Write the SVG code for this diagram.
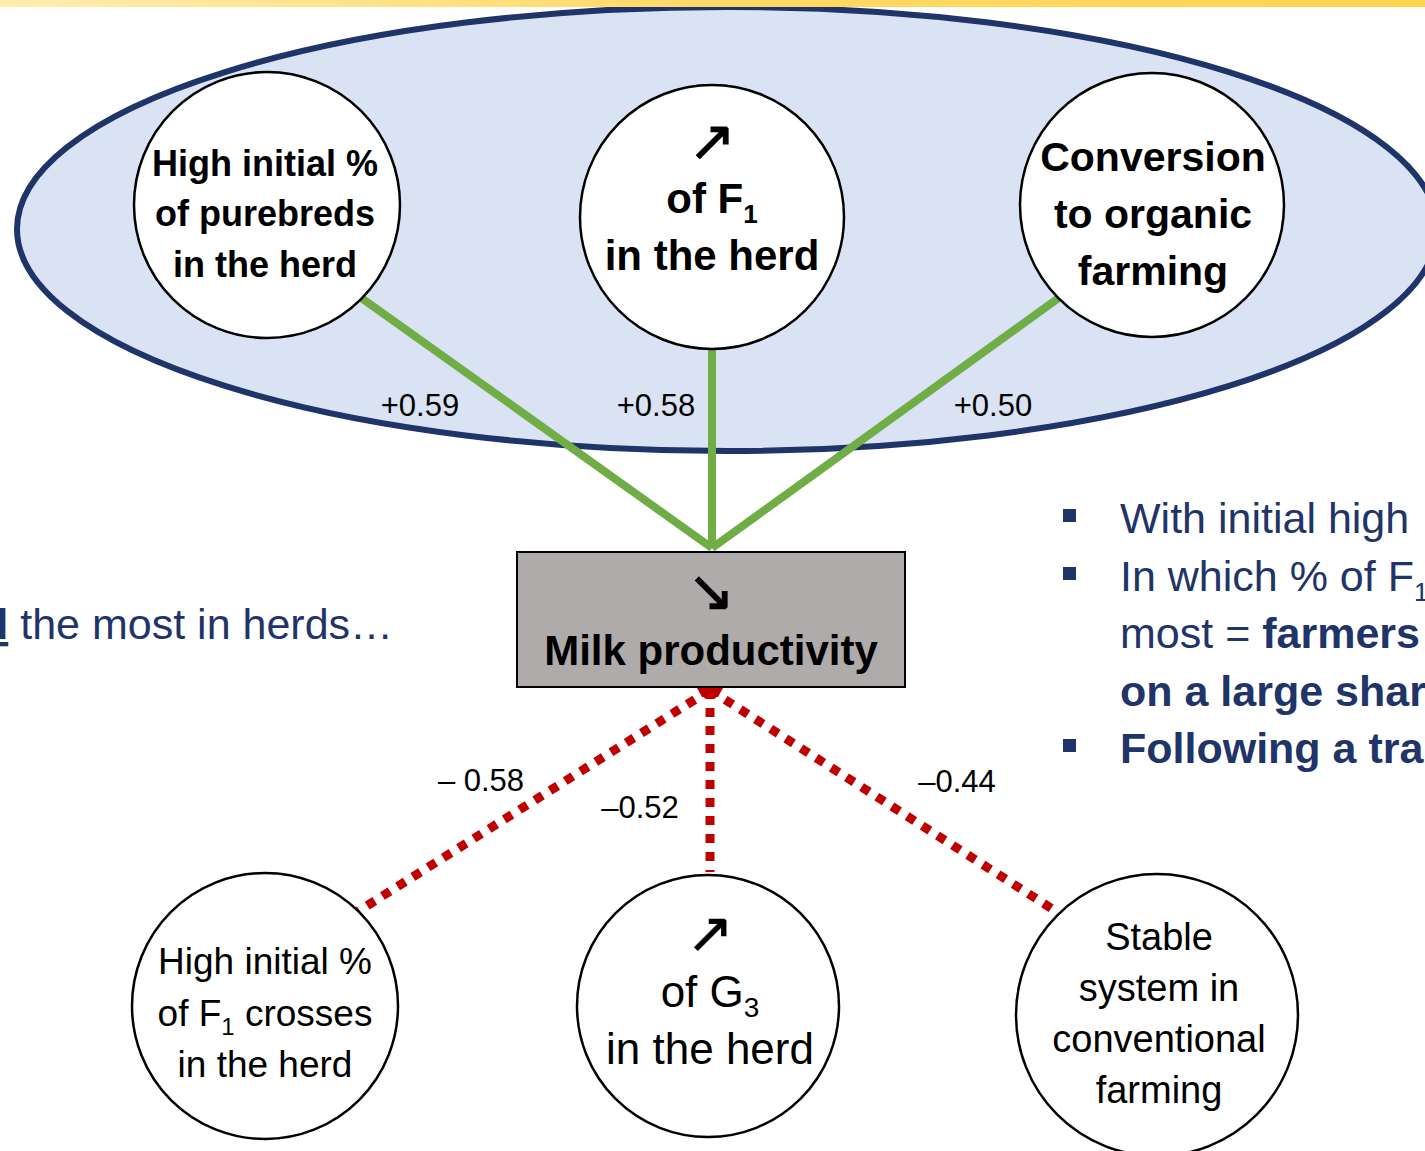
<svg xmlns="http://www.w3.org/2000/svg" width="1425" height="1151" viewBox="0 0 1425 1151">
<defs>
<linearGradient id="bar" x1="0" y1="0" x2="1" y2="0">
<stop offset="0" stop-color="#FFEDB0"/>
<stop offset="0.5" stop-color="#FFD966"/>
<stop offset="1" stop-color="#FFD54F"/>
</linearGradient>
<style>
.node{fill:#fff;stroke:#000;stroke-width:2.5}
.bt{font-family:"Liberation Sans","Open Sans",sans-serif;font-weight:bold;fill:#000;text-anchor:middle}
.nt{font-family:"Liberation Sans","Open Sans",sans-serif;fill:#000;text-anchor:middle}
.arr{font-family:"DejaVu Sans",sans-serif;fill:#000;stroke:#000;text-anchor:middle}
.pos{stroke:#70AD47;stroke-width:8;fill:none}
.neg{stroke:#C00000;stroke-width:9;fill:none;stroke-dasharray:9 9}
.lbl{font-family:"Liberation Sans","Open Sans",sans-serif;font-size:31px;fill:#000;text-anchor:middle}
.side{font-family:"Liberation Sans","Open Sans",sans-serif;font-size:43px;fill:#1F3468}
</style>
</defs>
<rect x="0" y="0" width="1425" height="1151" fill="#fff"/>
<ellipse id="group" cx="727" cy="229" rx="710" ry="222" fill="#DAE3F3" stroke="#1F3468" stroke-width="6"/>
<rect x="0" y="0" width="1425" height="7" fill="url(#bar)"/>

<g id="connectors">
<line class="pos" x1="360" y1="297" x2="712" y2="548"/>
<line class="pos" x1="712" y1="350" x2="712" y2="548"/>
<line class="pos" x1="1060" y1="297" x2="712" y2="548"/>
<line class="neg" x1="710" y1="690" x2="357" y2="912"/>
<line class="neg" x1="710" y1="690" x2="710" y2="872"/>
<line class="neg" x1="710" y1="690" x2="1057" y2="912"/>
<polygon points="697,688 723,688 718,697 702,697" fill="#C00000"/>
<text class="lbl" x="420" y="416">+0.59</text>
<text class="lbl" x="656" y="416">+0.58</text>
<text class="lbl" x="993" y="416">+0.50</text>
<text class="lbl" x="481" y="791">– 0.58</text>
<text class="lbl" x="640" y="818">–0.52</text>
<text class="lbl" x="957" y="792">–0.44</text>
</g>

<g id="n1">
<circle class="node" cx="267" cy="205" r="133"/>
<text class="bt" font-size="36" x="265" y="176">High initial %</text>
<text class="bt" font-size="36" x="265" y="226">of purebreds</text>
<text class="bt" font-size="36" x="265" y="277">in the herd</text>
</g>
<g id="n2">
<circle class="node" cx="712" cy="217" r="132"/>
<text class="arr" font-size="56" stroke-width="1.2" x="712" y="160">↗</text>
<text class="bt" font-size="42" x="712" y="213">of F<tspan font-size="26" dy="10">1</tspan></text>
<text class="bt" font-size="42" x="712" y="270">in the herd</text>
</g>
<g id="n3">
<circle class="node" cx="1152" cy="205" r="132"/>
<text class="bt" font-size="41" x="1153" y="171">Conversion</text>
<text class="bt" font-size="41" x="1153" y="228">to organic</text>
<text class="bt" font-size="41" x="1153" y="285">farming</text>
</g>
<g id="n4">
<rect x="517" y="552" width="388" height="135" fill="#AFABAB" stroke="#000" stroke-width="2"/>
<text class="arr" font-size="56" stroke-width="1.2" x="711" y="610">↘</text>
<text class="bt" font-size="42" x="711" y="665">Milk productivity</text>
</g>
<g id="n5">
<circle class="node" cx="265" cy="1006" r="133"/>
<text class="nt" font-size="37" x="265" y="974">High initial %</text>
<text class="nt" font-size="37" x="265" y="1026">of F<tspan font-size="24" dy="9">1</tspan><tspan dy="-9"> crosses</tspan></text>
<text class="nt" font-size="37" x="265" y="1077">in the herd</text>
</g>
<g id="n6">
<circle class="node" cx="708" cy="1006" r="131"/>
<text class="arr" font-size="56" stroke-width="0.8" x="710" y="952">↗</text>
<text class="nt" font-size="44" x="710" y="1007">of G<tspan font-size="28" dy="10">3</tspan></text>
<text class="nt" font-size="44" x="710" y="1064">in the herd</text>
</g>
<g id="n7">
<circle class="node" cx="1157" cy="1015" r="141"/>
<text class="nt" font-size="38" x="1159" y="950">Stable</text>
<text class="nt" font-size="38" x="1159" y="1001">system in</text>
<text class="nt" font-size="38" x="1159" y="1052">conventional</text>
<text class="nt" font-size="38" x="1159" y="1103">farming</text>
</g>

<g id="left-text">
<text class="side" x="-18" y="639"><tspan font-weight="bold" text-decoration="underline">d</tspan> the most in herds…</text>
</g>
<g id="right-text">
<rect x="1063" y="509" width="13" height="13" fill="#1F3468"/>
<rect x="1063" y="567" width="13" height="13" fill="#1F3468"/>
<rect x="1063" y="739" width="13" height="13" fill="#1F3468"/>
<text class="side" x="1120" y="533">With initial high</text>
<text class="side" x="1120" y="591">In which % of F<tspan font-size="26" dy="10">1</tspan></text>
<text class="side" x="1120" y="648">most = <tspan font-weight="bold">farmers</tspan></text>
<text class="side" x="1120" y="706" font-weight="bold">on a large share</text>
<text class="side" x="1120" y="763" font-weight="bold">Following a tran</text>
</g>
</svg>
